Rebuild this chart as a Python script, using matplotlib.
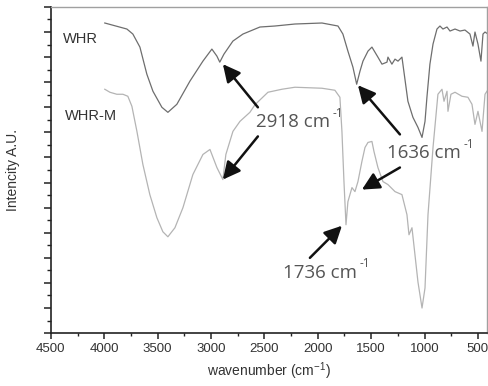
import matplotlib
matplotlib.use("Agg")
import matplotlib.pyplot as plt
from matplotlib.ticker import MultipleLocator, NullFormatter

# traced FTIR spectra (wavenumber cm-1, intensity a.u.)
whr_wn = [3995, 3788, 3732, 3666, 3601, 3544, 3460, 3404, 3320, 3198, 3076, 2992,
          2945, 2918, 2879, 2795, 2701, 2542, 2402, 2214, 1961, 1811, 1765, 1718,
          1671, 1636, 1605, 1577, 1530, 1493, 1465, 1437, 1399, 1352, 1343, 1306,
          1277, 1249, 1212, 1203, 1156, 1109, 1062, 1024, 996, 978, 950, 921, 884,
          856, 828, 790, 762, 715, 668, 622, 575, 547, 528, 500, 472, 453, 434, 406]
whr_i = [12.36, 12.12, 11.92, 11.40, 10.32, 9.64, 9.00, 8.80, 9.12, 10.04, 10.84, 11.32,
         11.04, 10.80, 11.12, 11.64, 11.92, 12.20, 12.24, 12.32, 12.36, 12.24, 11.92, 11.24,
         10.60, 9.92, 10.44, 10.84, 11.24, 11.40, 11.20, 11.00, 10.72, 10.80, 11.00, 10.72,
         10.92, 10.84, 11.00, 10.72, 9.24, 8.60, 8.20, 7.80, 8.44, 9.40, 10.72, 11.52, 12.12,
         12.24, 12.12, 12.20, 12.04, 12.12, 12.04, 12.08, 11.92, 11.44, 12.00, 11.52, 10.84,
         11.92, 12.00, 11.92]

whrm_wn = [3995, 3947, 3882, 3825, 3779, 3741, 3694, 3638, 3573, 3507, 3451, 3404, 3338,
           3263, 3170, 3076, 3010, 2945, 2889, 2861, 2795, 2729, 2636, 2589, 2467, 2336,
           2214, 1961, 1840, 1793, 1774, 1755, 1736, 1718, 1680, 1652, 1624, 1587, 1558,
           1530, 1493, 1474, 1437, 1390, 1343, 1277, 1212, 1165, 1146, 1118, 1090, 1062,
           1024, 996, 968, 921, 875, 837, 818, 790, 781, 753, 715, 650, 594, 556, 528,
           500, 462, 434, 416]
whrm_i = [9.72, 9.60, 9.52, 9.52, 9.44, 9.04, 8.04, 6.72, 5.52, 4.60, 4.04, 3.84, 4.20,
          5.00, 6.32, 7.12, 7.32, 6.60, 6.12, 7.12, 8.04, 8.44, 8.80, 9.10, 9.60, 9.72,
          9.80, 9.76, 9.68, 9.40, 8.04, 6.04, 4.32, 5.24, 5.80, 5.64, 6.04, 6.84, 7.40,
          7.60, 7.64, 7.24, 6.60, 6.04, 5.92, 5.64, 5.52, 4.72, 3.92, 4.20, 3.12, 2.04,
          1.00, 1.80, 4.72, 7.40, 9.52, 9.72, 9.24, 9.64, 8.84, 9.52, 9.60, 9.44, 9.40,
          9.12, 8.32, 8.84, 8.04, 9.52, 9.64]

x_ticks = [4500, 4000, 3500, 3000, 2500, 2000, 1500, 1000, 500]

plt.rcParams["font.family"] = ["Liberation Sans", "DejaVu Sans"]
plt.rcParams["mathtext.fontset"] = "custom"
plt.rcParams["mathtext.rm"] = "Liberation Sans"

fig = plt.figure(figsize=(4.89, 3.86), dpi=100)
ax = fig.add_axes([0.104, 0.137, 0.892, 0.845])

ax.plot(whr_wn, whr_i, color="#6e6e6e", lw=0.9)
ax.plot(whrm_wn, whrm_i, color="#b4b4b4", lw=0.9)

ax.set_xlim(4500, 415)
ax.set_ylim(0, 13)
ax.set_xticks(x_ticks)
ax.xaxis.set_minor_locator(MultipleLocator(250))
ax.yaxis.set_major_locator(MultipleLocator(1))
ax.yaxis.set_minor_locator(MultipleLocator(0.5))
ax.yaxis.set_major_formatter(NullFormatter())

ax.tick_params(axis="x", which="major", direction="out", length=4, width=1.1,
               labelsize=9.5, labelcolor="#333333", color="#222222", pad=3)
ax.tick_params(axis="x", which="minor", direction="out", length=2.5, width=1, color="#222222")
ax.tick_params(axis="y", which="major", direction="out", length=5, width=1.1, color="#222222")
ax.tick_params(axis="y", which="minor", direction="out", length=3, width=1, color="#222222")

for s in ["left", "bottom"]:
    ax.spines[s].set_color("#222222")
    ax.spines[s].set_linewidth(1.2)
for s in ["top", "right"]:
    ax.spines[s].set_color("#a0a0a0")
    ax.spines[s].set_linewidth(1)

ax.set_xlabel(r"wavenumber (cm$^{\mathregular{-1}}$)", fontsize=10, color="#333333", labelpad=4)
ax.set_ylabel("Intencity A.U.", fontsize=10, color="#333333", labelpad=14)

# sample names
ax.text(4388, 11.72, "WHR", fontsize=10.5, color="#333333", va="center")
ax.text(4369, 8.64, "WHR-M", fontsize=10.5, color="#333333", va="center")

# arrows
arrow_kw = dict(arrowstyle="-|>,head_length=0.7,head_width=0.35", color="#111111",
                lw=1.8, mutation_scale=15, shrinkA=0, shrinkB=0)
arrows = [((2561, 9.0), (2889, 10.72)),
          ((2561, 7.84), (2889, 6.12)),
          ((1231, 7.92), (1624, 9.88)),
          ((1231, 6.6), (1587, 5.72)),
          ((2074, 3.0), (1774, 4.28))]
for tail, head in arrows:
    ax.annotate("", xy=head, xytext=tail, arrowprops=arrow_kw)

# peak labels
labels = [("2918 cm", 2580, 8.4), ("1636 cm", 1352, 7.16), ("1736 cm", 2327, 2.4)]
for txt, x, y in labels:
    t = ax.text(x, y, txt, fontsize=13.5, color="#555555", va="center",
                family=["Open Sans", "DejaVu Sans"])
    ax.annotate("-1", xy=(1.0, 1.0), xycoords=t, xytext=(2, 0),
                textcoords="offset points", fontsize=8.5, color="#555555",
                va="center", family=["Open Sans", "DejaVu Sans"])

fig.savefig("out.png", dpi=100)
